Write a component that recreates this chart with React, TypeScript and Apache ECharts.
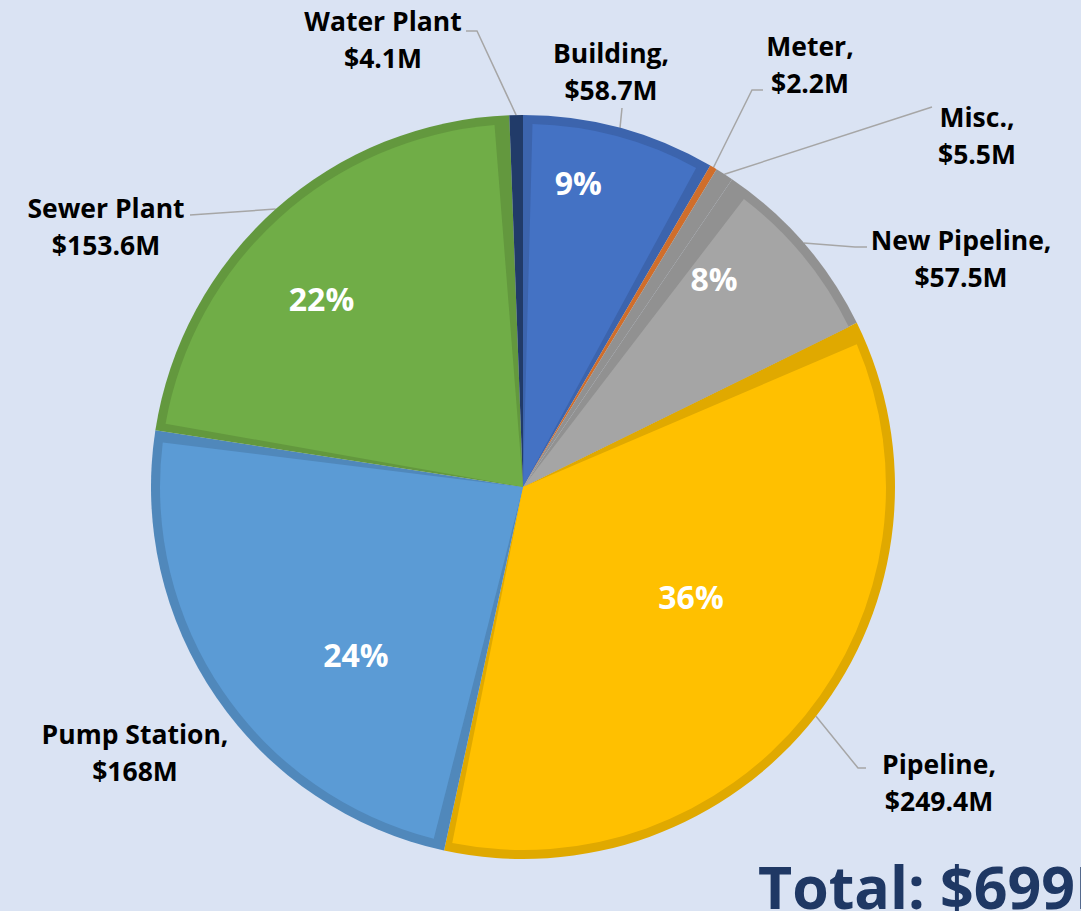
import React, { useEffect, useRef } from "react";
import * as echarts from "echarts";

// ---- data ----
const categories = ["Building", "Meter", "Misc.", "New Pipeline", "Pipeline", "Pump Station", "Sewer Plant", "Water Plant"];
const values = [58.7, 2.2, 5.5, 57.5, 249.4, 168, 153.6, 4.1];
const percentLabels = ["9%", "", "", "8%", "36%", "24%", "22%", ""];
const namesWithoutComma = ["Water Plant", "Sewer Plant"];
const totalLabel = "Total: $699M";

// ---- styles ----
const fillColors = ["#4472C4", "#ED7D31", "#A5A5A5", "#A5A5A5", "#FFC000", "#5B9BD5", "#70AD47", "#264478"];
const borderColors = ["#3C64AD", "#D06E2B", "#919191", "#919191", "#E0A900", "#5088BB", "#63983E", "#213B69"];

// label block centres and leader bends (layout, per category index)
const outerLabelPos: [number, number][] = [
  [611, 71], [810, 64], [977, 135], [961, 258], [939, 782], [135, 752], [106, 226], [383, 39],
];
const leaderBends: [number, number][][] = [
  [[622, 108]],
  [[752, 90], [763, 90]],
  [[932, 107]],
  [[855, 247], [867, 247]],
  [[858, 768], [866, 768]],
  [],
  [[190, 215]],
  [[477, 31], [466, 31]],
];
const percentNudge: [number, number][] = [
  [-16, -41], [0, 0], [0, 0], [-15, -29], [-47, -59], [58, 13], [-20, 15], [0, 0],
];

const FONT = "'Open Sans', 'Noto Sans', sans-serif";

export default function App() {
  const ref = useRef<HTMLDivElement>(null);
  useEffect(() => {
    if (!ref.current) return;
    const chart = echarts.init(ref.current, undefined, { renderer: "svg" });
    const center = [523, 487];

    const baseData = categories.map((name, i) => ({
      name,
      value: values[i],
      itemStyle: { color: borderColors[i] },
      labelLine: { show: leaderBends[i].length > 0 },
    }));
    const fillData = categories.map((name, i) => ({
      name,
      value: values[i],
      itemStyle: { color: fillColors[i] },
    }));
    const pctData = categories.map((name, i) => ({ name, value: values[i] }));

    chart.setOption({
      animation: false,
      backgroundColor: "#DAE3F3",
      series: [
        {
          type: "pie",
          center,
          radius: [0, 372],
          startAngle: 90,
          clockwise: true,
          avoidLabelOverlap: false,
          silent: true,
          itemStyle: { borderWidth: 0 },
          emphasis: { disabled: true },
          data: baseData,
          label: {
            show: true,
            position: "outside",
            fontFamily: FONT,
            fontWeight: "bold",
            fontSize: 26.5,
            lineHeight: 37,
            color: "#000000",
            align: "center",
            formatter: (p: any) =>
              `${p.name}${namesWithoutComma.includes(p.name) ? "" : ","}\n$${p.value}M`,
          },
          labelLine: {
            show: true,
            length: 10,
            length2: 10,
            lineStyle: { color: "#A6A6A6", width: 1.5 },
          },
          labelLayout: (params: any) => {
            const i = params.dataIndex;
            const start = params.labelLinePoints ? params.labelLinePoints[0] : null;
            const pts = start ? [start, ...leaderBends[i]] : undefined;
            return {
              x: outerLabelPos[i][0],
              y: outerLabelPos[i][1],
              align: "center",
              verticalAlign: "middle",
              labelLinePoints: pts && pts.length > 1 ? pts : undefined,
            };
          },
        },
        {
          type: "pie",
          center,
          radius: [0, 363],
          startAngle: 90,
          clockwise: true,
          padAngle: 3,
          silent: true,
          itemStyle: { borderWidth: 0 },
          emphasis: { disabled: true },
          label: { show: false },
          labelLine: { show: false },
          data: fillData,
        },
        {
          type: "pie",
          center,
          radius: [0, 540],
          startAngle: 90,
          clockwise: true,
          silent: true,
          itemStyle: { color: "rgba(0,0,0,0)", borderWidth: 0 },
          emphasis: { disabled: true },
          labelLine: { show: false },
          data: pctData,
          label: {
            show: true,
            position: "inside",
            fontFamily: FONT,
            fontWeight: "bold",
            fontSize: 32,
            color: "#FFFFFF",
            formatter: (p: any) => percentLabels[p.dataIndex],
          },
          labelLayout: (params: any) => ({
            dx: percentNudge[params.dataIndex][0],
            dy: percentNudge[params.dataIndex][1],
          }),
        },
      ],
      graphic: [
        {
          type: "text",
          left: 758,
          top: 856,
          style: {
            text: totalLabel,
            fontFamily: FONT,
            fontWeight: "bold",
            fontSize: 59,
            fill: "#1F3864",
          },
        },
      ],
    });
    return () => chart.dispose();
  }, []);
  return (
    <div
      ref={ref}
      style={{ position: "absolute", left: 0, top: 0, width: 1081, height: 911 }}
    />
  );
}
